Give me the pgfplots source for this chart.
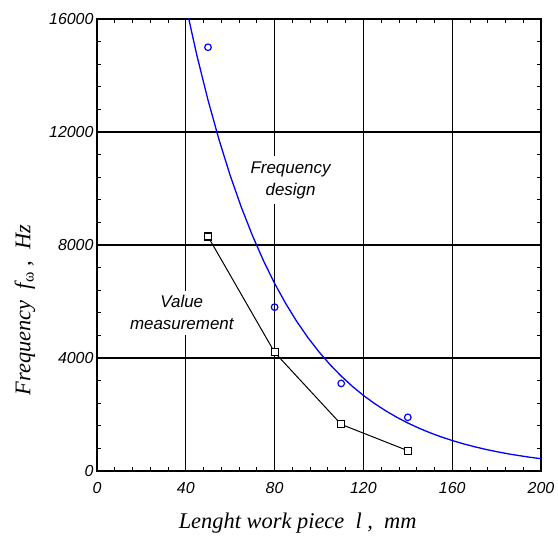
\documentclass[border=0pt]{standalone}
\usepackage{fontspec}
\setmainfont{Liberation Serif}
\newfontfamily\arial{Liberation Sans}
\usepackage{pgfplots}
\pgfplotsset{compat=1.18}
\usetikzlibrary{calc}

\begin{document}
\begin{tikzpicture}
\begin{axis}[
  scale only axis, width=444bp, height=452bp,
  xmin=0, xmax=200, ymin=0, ymax=16000,
  xtick={0,40,...,200}, ytick={0,4000,...,16000},
  minor x tick num=4, minor y tick num=4,
  tick align=inside,
  major tick length=4bp, minor tick length=4bp,
  grid=major,
  major grid style={black, line width=1.4bp},
  axis line style={line width=1.3bp},
  every tick/.style={black, line width=0.8bp},
  scaled ticks=false,
  /pgf/number format/assume math mode=true,
  /pgf/number format/1000 sep={},
  ticklabel style={font=\arial\itshape\fontsize{16}{16}\selectfont},
  xticklabel style={yshift=-8bp},
  yticklabel style={xshift=0bp},
  xlabel={Lenght work piece~~l ,~~mm},
  ylabel={Frequency~~f\textsubscript{\upshape ω}~,~~Hz},
  xlabel style={font=\itshape\fontsize{22.5}{22.5}\selectfont, at={(axis description cs:0.452,0)}, anchor=center, yshift=-52bp},
  ylabel style={font=\itshape\fontsize{22.5}{22.5}\selectfont, at={(axis description cs:0,0.356)}, anchor=center, yshift=72bp},
  clip=true,
]
\addplot[blue, line width=1.3bp, no marks] table {
x y
40 16480
45 14709
50 13131
55 11719
60 10460
65 9339
70 8338
75 7442
80 6641
85 5929
90 5291
95 4723
100 4216
105 3763
110 3359
115 2999
120 2676
125 2389
130 2133
135 1904
140 1699
145 1517
150 1354
155 1208
160 1079
165 963
170 860
175 767
180 685
185 611
190 546
195 487
200 435
};
\addplot[only marks, blue, mark=o, mark size=3.3bp, mark options={line width=1.2bp}] table {
x y
50 15000
80 5800
110 3100
140 1900
};
\addplot[black, line width=1bp, mark=square*, mark size=3.5bp, mark options={fill=white, line width=1.2bp}] table {
x y
50 8300
80 4200
110 1650
140 720
};
\node[fill=white, align=center, inner sep=5bp, font=\arial\itshape\fontsize{17}{22}\selectfont] at (axis cs:87.2,10300) {Frequency\\design};
\node[fill=white, align=center, inner sep=5bp, font=\arial\itshape\fontsize{17}{22}\selectfont] at (axis cs:38.2,5600) {Value\\measurement};
\end{axis}
\pgfresetboundingbox
\path ($(current axis.south west)+(-97bp,-65bp)$) rectangle ($(current axis.north east)+(17bp,19bp)$);
\end{tikzpicture}
\end{document}
